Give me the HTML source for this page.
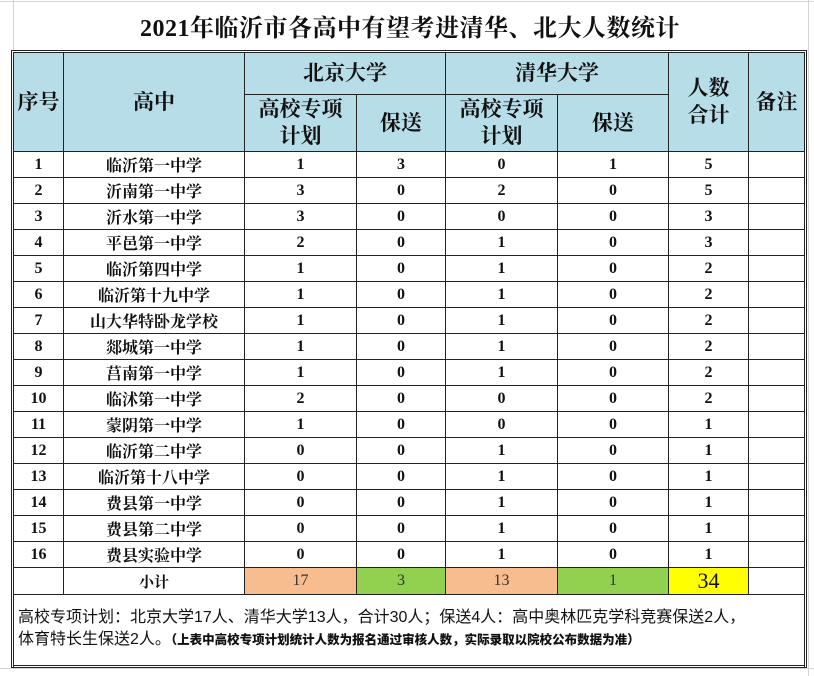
<!DOCTYPE html>
<html><head><meta charset="utf-8"><style>
body{margin:0;width:814px;height:676px;background:#fff;position:relative;overflow:hidden;font-family:"Liberation Serif","Noto Serif CJK SC",serif;}
.g{position:absolute;background:#d4d4d4}
.title{position:absolute;left:14px;top:8px;width:792px;text-align:center;font-size:24px;font-weight:bold;color:#111;letter-spacing:0.5px}
.box{position:absolute;left:11px;top:50px;width:790px;height:612px;border:3px double #222;}
table{position:absolute;left:13px;top:52px;border-collapse:collapse;table-layout:fixed;}
td{border:1px solid #222;text-align:center;padding:0;font-weight:bold;font-size:16px;color:#111;overflow:hidden;white-space:nowrap}
.h td{background:#b7dde8;font-size:21px;line-height:27px}
.d td{height:25px}
.s td{font-weight:normal;font-size:16px;color:#333}
td.note{text-align:left;font-weight:normal;font-size:16px;line-height:21px;padding:12px 2px 6px 4px;white-space:nowrap;vertical-align:top;font-family:"Liberation Sans","Noto Sans CJK SC",sans-serif;color:#111}
.note b{font-size:12.5px;font-weight:900;font-family:"Noto Sans CJK SC",sans-serif}
</style></head><body>
<div class="g" style="left:13px;top:0;width:1px;height:50px"></div>
<div class="g" style="left:0;top:1px;width:814px;height:1px"></div>
<div class="g" style="left:808px;top:0;width:1px;height:676px"></div>
<div class="g" style="left:0;top:668px;width:814px;height:1px"></div>
<div class="title">2021年临沂市各高中有望考进清华、北大人数统计</div>
<div class="box"></div>
<table>
<colgroup><col style="width:50px"><col style="width:181px"><col style="width:112px"><col style="width:89px"><col style="width:112px"><col style="width:111px"><col style="width:80px"><col style="width:56px"></colgroup>
<tr class="h" style="height:42px"><td rowspan="2">序号</td><td rowspan="2">高中</td><td colspan="2">北京大学</td><td colspan="2">清华大学</td><td rowspan="2">人数<br>合计</td><td rowspan="2">备注</td></tr>
<tr class="h" style="height:57px"><td>高校专项<br>计划</td><td>保送</td><td>高校专项<br>计划</td><td>保送</td></tr>
<tr class="d"><td>1</td><td>临沂第一中学</td><td>1</td><td>3</td><td>0</td><td>1</td><td>5</td><td></td></tr>
<tr class="d"><td>2</td><td>沂南第一中学</td><td>3</td><td>0</td><td>2</td><td>0</td><td>5</td><td></td></tr>
<tr class="d"><td>3</td><td>沂水第一中学</td><td>3</td><td>0</td><td>0</td><td>0</td><td>3</td><td></td></tr>
<tr class="d"><td>4</td><td>平邑第一中学</td><td>2</td><td>0</td><td>1</td><td>0</td><td>3</td><td></td></tr>
<tr class="d"><td>5</td><td>临沂第四中学</td><td>1</td><td>0</td><td>1</td><td>0</td><td>2</td><td></td></tr>
<tr class="d"><td>6</td><td>临沂第十九中学</td><td>1</td><td>0</td><td>1</td><td>0</td><td>2</td><td></td></tr>
<tr class="d"><td>7</td><td>山大华特卧龙学校</td><td>1</td><td>0</td><td>1</td><td>0</td><td>2</td><td></td></tr>
<tr class="d"><td>8</td><td>郯城第一中学</td><td>1</td><td>0</td><td>1</td><td>0</td><td>2</td><td></td></tr>
<tr class="d"><td>9</td><td>莒南第一中学</td><td>1</td><td>0</td><td>1</td><td>0</td><td>2</td><td></td></tr>
<tr class="d"><td>10</td><td>临沭第一中学</td><td>2</td><td>0</td><td>0</td><td>0</td><td>2</td><td></td></tr>
<tr class="d"><td>11</td><td>蒙阴第一中学</td><td>1</td><td>0</td><td>0</td><td>0</td><td>1</td><td></td></tr>
<tr class="d"><td>12</td><td>临沂第二中学</td><td>0</td><td>0</td><td>1</td><td>0</td><td>1</td><td></td></tr>
<tr class="d"><td>13</td><td>临沂第十八中学</td><td>0</td><td>0</td><td>1</td><td>0</td><td>1</td><td></td></tr>
<tr class="d"><td>14</td><td>费县第一中学</td><td>0</td><td>0</td><td>1</td><td>0</td><td>1</td><td></td></tr>
<tr class="d"><td>15</td><td>费县第二中学</td><td>0</td><td>0</td><td>1</td><td>0</td><td>1</td><td></td></tr>
<tr class="d"><td>16</td><td>费县实验中学</td><td>0</td><td>0</td><td>1</td><td>0</td><td>1</td><td></td></tr>
<tr class="d s"><td></td><td style="font-weight:bold;color:#111;font-size:15px">小计</td><td style="background:#f8bd8f">17</td><td style="background:#92d050">3</td><td style="background:#f8bd8f">13</td><td style="background:#92d050">1</td><td style="background:#ffff00;font-size:22px;color:#111">34</td><td></td></tr>
<tr style="height:73px"><td colspan="8" class="note">高校专项计划：北京大学17人、清华大学13人，合计30人；保送4人：高中奥林匹克学科竞赛保送2人，<br>体育特长生保送2人。<b>（上表中高校专项计划统计人数为报名通过审核人数，实际录取以院校公布数据为准）</b></td></tr>
</table>
</body></html>
